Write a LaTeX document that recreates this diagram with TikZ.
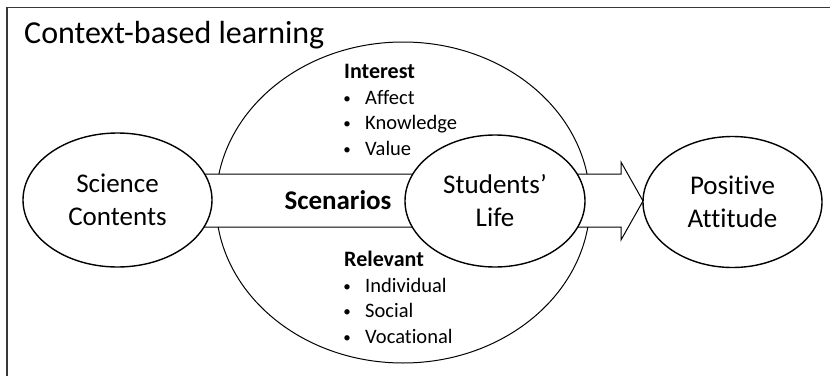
\documentclass[tikz,border=0pt]{standalone}
\usepackage{fontspec}
\setmainfont{Carlito}[Ligatures={NoCommon}]
\usetikzlibrary{shapes.geometric}
\begin{document}
\begin{tikzpicture}[x=1pt,y=-1pt,
  oval/.style={ellipse,draw=black,line width=1.4pt,fill=white,inner sep=0pt,
    align=center,font=\fontsize{27}{33}\selectfont},
  listhead/.style={anchor=base west,inner sep=0pt,font=\fontsize{22}{25}\selectfont\bfseries},
  listitem/.style={anchor=base west,inner sep=0pt,font=\fontsize{20.5}{25}\selectfont},
  bul/.style={anchor=base,inner sep=0pt,font=\fontsize{15}{25}\selectfont}]
\useasboundingbox (0,0) rectangle (830,375);
\fill[white] (0,0) rectangle (830,375);
% frame
\draw[line width=1.8pt,draw=black!78,line cap=rect] (7,375) -- (7,7.5) -- (830,7.5);
\node[anchor=base west,inner sep=0pt,font=\fontsize{32}{36}\selectfont] (title) at (24,43) {Context-based learning};
% big circle
\draw[line width=1pt] (403,202.5) ellipse [x radius=187, y radius=160.5];
% block arrow
\coordinate (a1) at (150,174);
\coordinate (a2) at (621,174);
\coordinate (a3) at (621,162);
\coordinate (tip) at (643,201);
\coordinate (a5) at (621,240);
\coordinate (a6) at (621,227);
\coordinate (a7) at (150,227);
\draw[line width=1pt,fill=white,line join=miter] (a1) -- (a2) -- (a3) -- (tip) -- (a5) -- (a6) -- (a7) -- cycle;
% ellipses
\node[oval,minimum width=189,minimum height=134] (sci) at (117.5,200) {Science\\Contents};
\node[oval,minimum width=180,minimum height=132] (stu) at (495,201) {Students’\\Life};
\node[oval,minimum width=179,minimum height=131] (pos) at (732.5,202) {Positive\\Attitude};
\node[inner sep=0pt,anchor=base,font=\fontsize{27}{33}\selectfont\bfseries] (scen) at (338,209) {Scenarios};
% Interest list
\node[listhead] (int) at (344,78) {Interest};
\node[bul] (b1) at (347,103) {•};
\node[listitem] (i1) at (365,104) {Affect};
\node[bul] (b2) at (347,128.5) {•};
\node[listitem] (i2) at (365,129.5) {Knowledge};
\node[bul] (b3) at (347,154) {•};
\node[listitem] (i3) at (365,155) {Value};
% Relevant list
\node[listhead] (rel) at (344,266) {Relevant};
\node[bul] (b4) at (347,291) {•};
\node[listitem] (r1) at (365,292) {Individual};
\node[bul] (b5) at (347,316.5) {•};
\node[listitem] (r2) at (365,317.5) {Social};
\node[bul] (b6) at (347,342) {•};
\node[listitem] (r3) at (365,343) {Vocational};
\end{tikzpicture}
\end{document}
